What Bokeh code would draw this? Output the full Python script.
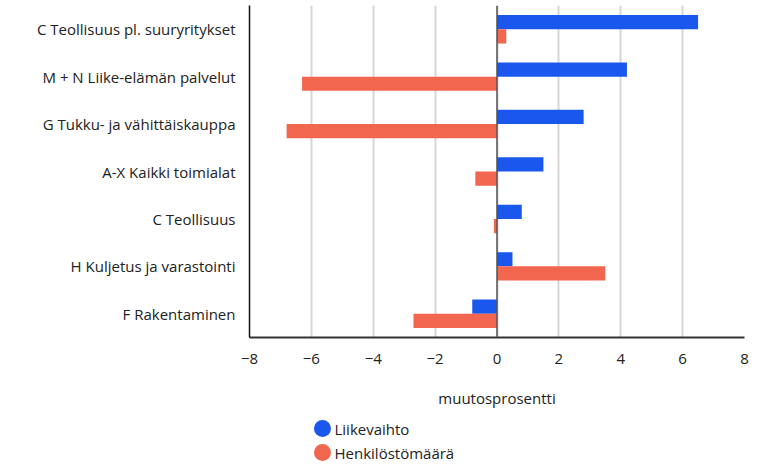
from bokeh.plotting import figure
from bokeh.models import FactorRange, ColumnDataSource, FixedTicker, Span
from bokeh.core.properties import value
from bokeh.layouts import column
from bokeh.transform import dodge
from bokeh.embed import file_html
from bokeh.resources import INLINE

categories = [
    "C Teollisuus pl. suuryritykset",
    "M + N Liike-elämän palvelut",
    "G Tukku- ja vähittäiskauppa",
    "A-X Kaikki toimialat",
    "C Teollisuus",
    "H Kuljetus ja varastointi",
    "F Rakentaminen",
]
liikevaihto = [6.5, 4.2, 2.8, 1.5, 0.8, 0.5, -0.8]
henkilosto = [0.3, -6.3, -6.8, -0.7, -0.1, 3.5, -2.7]
series_names = ["Liikevaihto", "Henkilöstömäärä"]
x_ticks = [-8, -6, -4, -2, 0, 2, 4, 6, 8]
x_tick_labels = ["−8", "−6", "−4", "−2", "0", "2", "4", "6", "8"]
x_label = "muutosprosentti"

BLUE = "#1a57ec"
RED = "#f2654e"
FONT = "Open Sans"
series_colors = [BLUE, RED]

src = ColumnDataSource(dict(cat=categories, lv=liikevaihto, hm=henkilosto))

p = figure(
    width=764, height=418,
    y_range=FactorRange(*reversed(categories)),
    x_range=(-8, 8),
    output_backend="svg", toolbar_location=None,
    min_border_left=249, min_border_right=20,
    min_border_top=5, min_border_bottom=81,
)
p.outline_line_color = None

p.hbar(y=dodge("cat", 0.15, range=p.y_range), right="lv", left=0, height=0.3,
       source=src, fill_color=BLUE, line_color=None)
p.hbar(y=dodge("cat", -0.15, range=p.y_range), right="hm", left=0, height=0.3,
       source=src, fill_color=RED, line_color=None)

p.add_layout(Span(location=0, dimension="height", line_color="#555555", line_width=1.5))

# x axis
p.xaxis.ticker = FixedTicker(ticks=x_ticks)
p.xaxis.major_label_overrides = {t: l for t, l in zip(x_ticks, x_tick_labels)}
p.xaxis.axis_label = x_label
p.xaxis.axis_label_text_font = FONT
p.xaxis.axis_label_text_font_style = "normal"
p.xaxis.axis_label_text_font_size = "15px"
p.xaxis.axis_label_text_color = "#222222"
p.xaxis.axis_label_standoff = 21
p.xaxis.major_label_text_font = FONT
p.xaxis.major_label_text_font_size = "15px"
p.xaxis.major_label_text_color = "#222222"
p.xaxis.major_label_standoff = 16
p.xaxis.major_tick_out = 0
p.xaxis.major_tick_in = 0
p.xaxis.minor_tick_out = 0
p.xaxis.minor_tick_in = 0
p.xaxis.axis_line_color = "#333333"
p.xaxis.axis_line_width = 2

# y axis
p.yaxis.major_label_text_font = FONT
p.yaxis.major_label_text_font_size = "15px"
p.yaxis.major_label_text_color = "#222222"
p.yaxis.major_label_standoff = 14
p.yaxis.major_tick_out = 0
p.yaxis.major_tick_in = 0
p.yaxis.axis_line_color = "#111111"
p.yaxis.axis_line_width = 1.5

p.xgrid.grid_line_color = "#d6d6d6"
p.xgrid.grid_line_width = 2
p.xgrid.ticker = FixedTicker(ticks=x_ticks)
p.ygrid.grid_line_color = None

# legend strip below the chart (coordinates = pixels of the strip)
lg = figure(width=764, height=47, output_backend="svg", toolbar_location=None,
            min_border=0, x_range=(0, 495), y_range=(0, 47))
lg.axis.visible = False
lg.grid.visible = False
lg.outline_line_color = None
leg_y = [37, 13]
leg_src = ColumnDataSource(dict(
    x=[73] * len(series_names), tx=[85] * len(series_names),
    y=leg_y, label=series_names, color=series_colors))
lg.scatter(x="x", y="y", source=leg_src, marker="circle", size=17,
           fill_color="color", line_color=None)
lg.text(x="tx", y="y", text="label", source=leg_src,
        text_font=value(FONT), text_font_size="15px", text_color="#222222",
        text_baseline="middle", text_align="left")

layout = column(p, lg, spacing=0)
open("out.html", "w").write(file_html(layout, INLINE))
